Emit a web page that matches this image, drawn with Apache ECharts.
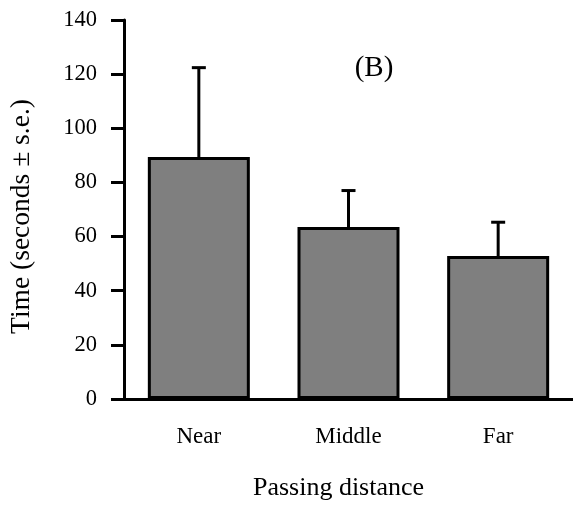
<!DOCTYPE html>
<html>
<head>
<meta charset="utf-8">
<title>Passing distance</title>
<script src="https://cdn.jsdelivr.net/npm/echarts@6/dist/echarts.min.js"></script>
<style>
  html, body { margin: 0; padding: 0; background: #ffffff; }
  #chart { width: 573px; height: 508px; }
</style>
</head>
<body>
<div id="chart"></div>
<script>
// Mean time per passing distance, with the standard error drawn upward
const categories = ['Near', 'Middle', 'Far'];
const meanTime = [89.4, 63.5, 52.8];
const stdError = [33.0, 13.5, 12.5];
const yTicks = { min: 0, max: 140, interval: 20 };

const FONT = '"Liberation Serif", "Times New Roman", serif';

const chart = echarts.init(document.getElementById('chart'), null, { renderer: 'canvas' });

const errorData = categories.map((c, i) => [i, meanTime[i], meanTime[i] + stdError[i]]);

chart.setOption({
  animation: false,
  backgroundColor: '#ffffff',
  title: {
    text: '(B)',
    left: 369,
    top: 49,
    textAlign: 'center',
    textStyle: { fontFamily: FONT, fontSize: 29, fontWeight: 'normal', color: '#000' }
  },
  grid: { left: 120, top: 20, width: 456, height: 379, containLabel: false },
  xAxis: {
    type: 'category',
    data: categories,
    name: 'Passing distance',
    nameLocation: 'middle',
    nameGap: 76,
    nameTextStyle: { fontFamily: FONT, fontSize: 26, color: '#000', padding: [0, 20, 0, 0] },
    axisLine: { lineStyle: { color: '#000', width: 3 } },
    axisTick: { alignWithLabel: true, length: 13, lineStyle: { color: '#000', width: 3 } },
    axisLabel: { fontFamily: FONT, fontSize: 23, color: '#000', margin: 26 }
  },
  yAxis: {
    type: 'value',
    min: yTicks.min,
    max: yTicks.max,
    interval: yTicks.interval,
    name: 'Time (seconds \u00b1 s.e.)',
    nameLocation: 'middle',
    nameGap: 88,
    nameTextStyle: { fontFamily: FONT, fontSize: 27.5, color: '#000', padding: [0, 14, 0, 0] },
    axisLine: { show: true, lineStyle: { color: '#000', width: 3 } },
    axisTick: { show: true, length: 13, lineStyle: { color: '#000', width: 3 } },
    axisLabel: { fontFamily: FONT, fontSize: 22.5, color: '#000', margin: 27 },
    splitLine: { show: false }
  },
  series: [
    {
      type: 'bar',
      data: meanTime,
      barWidth: 102,
      itemStyle: { color: '#7f7f7f', borderColor: '#000', borderWidth: 3 },
      z: 2
    },
    {
      type: 'custom',
      data: errorData,
      z: 3,
      renderItem: function (params, api) {
        const base = api.coord([api.value(0), api.value(1)]);
        const top = api.coord([api.value(0), api.value(2)]);
        const half = 7;
        const style = { stroke: '#000', lineWidth: 3 };
        return {
          type: 'group',
          children: [
            { type: 'line', shape: { x1: base[0], y1: base[1], x2: top[0], y2: top[1] }, style: style },
            { type: 'line', shape: { x1: top[0] - half, y1: top[1], x2: top[0] + half, y2: top[1] }, style: style }
          ]
        };
      }
    }
  ]
});
</script>
</body>
</html>
